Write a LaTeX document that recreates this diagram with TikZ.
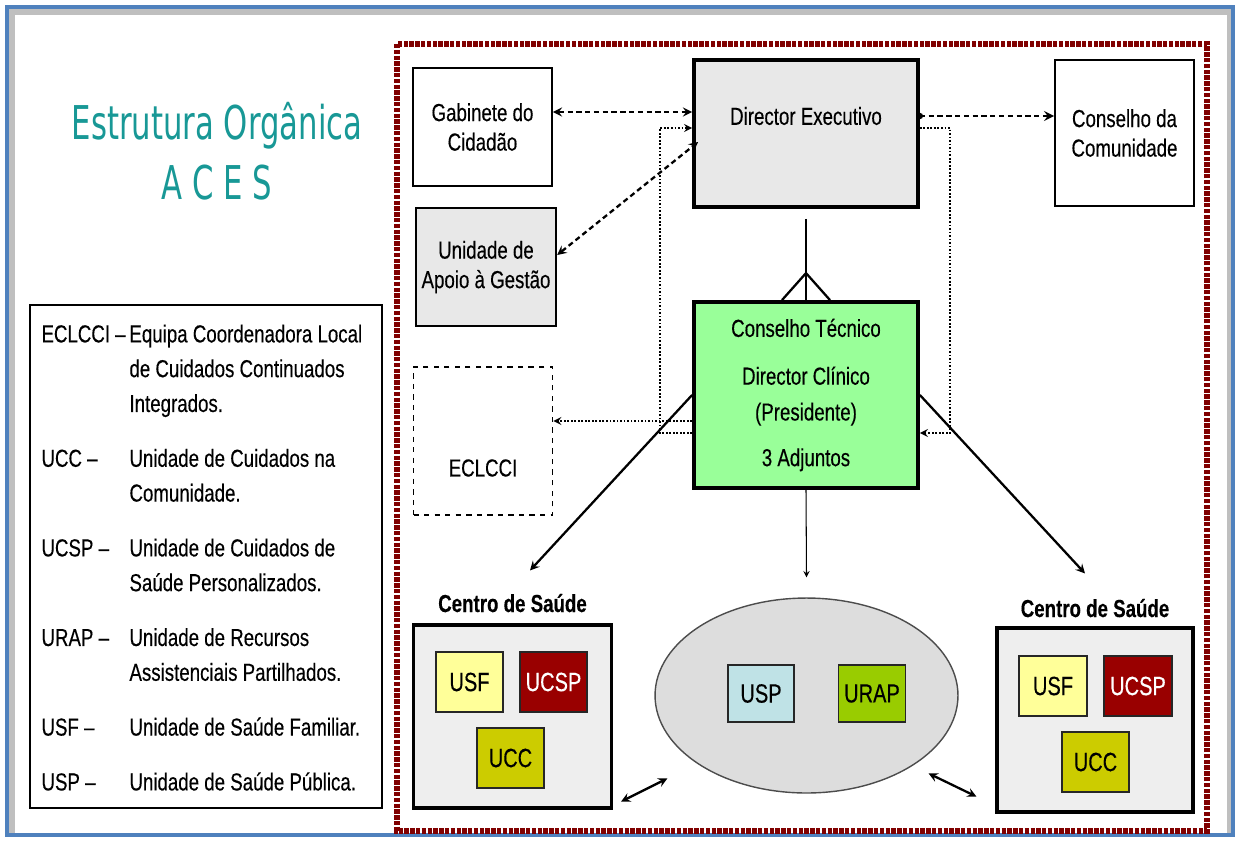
\documentclass[tikz,border=0pt]{standalone}
\usepackage{fontspec}
\setmainfont{Liberation Sans}[FakeStretch=0.76, FakeBold=0.3]
\newfontfamily\titlefont{DejaVu Sans}[FakeStretch=0.66]
\usepackage{xcolor}
\usepackage{tikz}
\usetikzlibrary{shapes.geometric, arrows, positioning}
\definecolor{framered}{RGB}{128,0,0}
\definecolor{frameblue}{RGB}{79,129,189}
\definecolor{titleteal}{RGB}{24,152,150}
\definecolor{boxgray}{RGB}{232,232,232}
\definecolor{centrogray}{RGB}{238,238,238}
\definecolor{ovalgray}{RGB}{221,221,221}
\definecolor{ctgreen}{RGB}{153,255,153}
\definecolor{usfyellow}{RGB}{255,255,153}
\definecolor{ucspred}{RGB}{153,0,0}
\definecolor{uccolive}{RGB}{204,204,0}
\definecolor{uspblue}{RGB}{191,226,230}
\definecolor{urapgreen}{RGB}{153,204,0}
\tikzstyle{unit}      = [rectangle, minimum width=2.78cm, minimum height=2.36cm, text centered, draw=black, line width=1pt]
\tikzstyle{chief}     = [rectangle, minimum width=4.48cm, text centered, draw=black, line width=2.2pt]
\tikzstyle{centro}    = [rectangle, minimum width=3.96cm, minimum height=3.66cm, draw=black, line width=1.8pt, fill=centrogray]
\tikzstyle{subunit}   = [rectangle, minimum width=1.34cm, minimum height=1.2cm, draw=black!85, line width=0.9pt, font=\fontsize{15}{17}\selectfont]
\tikzstyle{centrolabel} = [font=\fontsize{14}{16}\selectfont\bfseries]
\tikzstyle{dasharrow} = [line width=1.3pt, dash pattern=on 3pt off 2pt, <->, >=stealth]
\tikzstyle{dotarrow}  = [line width=1pt, dash pattern=on 1pt off 1pt, ->, >=stealth]
\tikzstyle{arrow}     = [line width=1.3pt,->,>=stealth]
\tikzset{every node/.style={align=center, font=\fontsize{14}{16.8}\selectfont}}

\begin{document}
\begin{tikzpicture}[x=0.02cm, y=-0.02cm]
    \useasboundingbox (0,0) rectangle (1240,840);
    \draw [black!25, line width=3pt] (12,834) -- (12,12) -- (1230,12) -- (1230,834);
    \draw [frameblue, line width=2pt] (7,7) rectangle (1233,835);
    \draw [framered, line width=3pt, dash pattern=on 2.5pt off 0.8pt] (397,44) rectangle (1207,831);

    \node (title) [anchor=base, text=titleteal, font=\fontsize{26.5}{30}\titlefont] at (217,139) {Estrutura Orgânica};
    \node (aces)  [anchor=base, text=titleteal, font=\fontsize{26.5}{30}\titlefont] at (217,199) {A C E S};

    \node (legend) [rectangle, draw=black, line width=1pt, minimum width=7.04cm, minimum height=10.06cm] at (206,556.5) {};
    \node (legendText) [anchor=north west, inner sep=0pt, align=left, font=\fontsize{14}{19.8}\selectfont]
        at ([xshift=0.24cm, yshift=-0.27cm]legend.north west) {%
        \begin{tabular}{@{}p{1.76cm}@{}l@{}}
        ECLCCI -- & Equipa Coordenadora Local\\
                  & de Cuidados Continuados\\
                  & Integrados.\\[11.4pt]
        UCC --    & Unidade de Cuidados na\\
                  & Comunidade.\\[11.4pt]
        UCSP --   & Unidade de Cuidados de\\
                  & Saúde Personalizados.\\[11.4pt]
        URAP --   & Unidade de Recursos\\
                  & Assistenciais Partilhados.\\[11.4pt]
        USF --    & Unidade de Saúde Familiar.\\[11.4pt]
        USP --    & Unidade de Saúde Pública.
        \end{tabular}};

    \node (gab)    [unit] at (482.5,127) {Gabinete do\\Cidadão};
    \node (apoio)  [unit, fill=boxgray, minimum width=2.8cm] at (486,267) {Unidade de\\Apoio à Gestão};
    \node (eclcci) [unit, dashed, minimum height=2.96cm, label={[yshift=-0.54cm]center:ECLCCI}] at (483,441) {};
    \node (dirExec) [chief, fill=boxgray, minimum height=2.94cm, label={[yshift=0.35cm]center:Director Executivo}] at (806,133.5) {};
    \node (consComun) [unit, minimum height=2.92cm] at (1124.5,133) {Conselho da\\Comunidade};
    \node (consTec) [chief, fill=ctgreen, minimum height=3.72cm, font=\fontsize{14}{20.4}\selectfont] at (806,395)
        {Conselho Técnico\\[6.8pt]Director Clínico\\(Presidente)\\[5.6pt]3 Adjuntos};

    \node (oval) [ellipse, draw=black!70, fill=ovalgray, line width=0.8pt, minimum width=6.06cm, minimum height=3.9cm, inner sep=0pt] at (806.5,695.5) {};
    \node (usp)  [subunit, fill=uspblue, minimum width=1.32cm, minimum height=1.14cm] at (761,693.5) {USP};
    \node (urap) [subunit, fill=urapgreen, minimum width=1.32cm, minimum height=1.14cm] at (872,693.5) {URAP};

    \node (centroA) [centro, label={[centrolabel, yshift=0.1cm]above:Centro de Saúde}] at (512.5,716.5) {};
    \node (usfA)  [subunit, fill=usfyellow] at (469.5,682) {USF};
    \node (ucspA) [subunit, fill=ucspred, text=white] at (553.5,682) {UCSP};
    \node (uccA)  [subunit, fill=uccolive] at (510.5,758) {UCC};

    \node (centroB) [centro, minimum width=3.92cm, minimum height=3.68cm, label={[centrolabel, yshift=0.06cm]above:Centro de Saúde}] at (1095,720) {};
    \node (usfB)  [subunit, fill=usfyellow, minimum width=1.36cm] at (1053,686) {USF};
    \node (ucspB) [subunit, fill=ucspred, text=white, minimum width=1.36cm] at (1138,686) {UCSP};
    \node (uccB)  [subunit, fill=uccolive] at (1095.5,762) {UCC};

    \draw [dasharrow] ([yshift=0.3cm]gab.east) -- ([yshift=0.3cm]gab.east -| dirExec.west);
    \draw [dasharrow] ([yshift=0.24cm]apoio.east) -- ([xshift=0.12cm, yshift=-0.17cm]dirExec.west);
    \draw [dasharrow, -stealth, line width=1.5pt] ([yshift=0.35cm]dirExec.east) -- ([yshift=0.35cm]dirExec.east -| consComun.west);
    \fill ([yshift=0.35cm]dirExec.east) circle (1.8pt);

    \draw [dotarrow] ([yshift=-0.76cm]consTec.west) -| ([xshift=-0.64cm, yshift=0.11cm]dirExec.west) -- ([yshift=0.11cm]dirExec.west);
    \draw [dotarrow] ([yshift=0.11cm]dirExec.east) -| ([xshift=0.6cm, yshift=-0.76cm]consTec.east) -- ([yshift=-0.76cm]consTec.east);
    \draw [dotarrow] ([yshift=-0.52cm]consTec.west) -- ([yshift=-0.52cm]consTec.west -| eclcci.east);

    \draw [semithick] ([yshift=-0.2cm]dirExec.south) -- (consTec.north);
    \draw [line width=1.3pt] ([xshift=-0.48cm]consTec.north) -- ([yshift=0.54cm]consTec.north) -- ([xshift=0.48cm]consTec.north);

    \draw [arrow, semithick] (consTec.south) -- ([yshift=0.4cm]oval.north);
    \draw [arrow] (consTec.west) -- ([xshift=0.35cm, yshift=1.06cm]centroA.north);
    \draw [arrow] (consTec.east) -- ([xshift=-0.2cm, yshift=1.06cm]centroB.north);

    \draw [line width=1.3pt, <->, >=stealth] ([xshift=0.16cm, yshift=0.16cm]centroA.south east) -- ([xshift=-0.63cm, yshift=-0.27cm]oval.south west);
    \draw [line width=1.3pt, <->, >=stealth] ([xshift=0.29cm, yshift=-0.17cm]oval.south east) -- ([xshift=-0.38cm, yshift=0.34cm]centroB.south west);
\end{tikzpicture}
\end{document}
